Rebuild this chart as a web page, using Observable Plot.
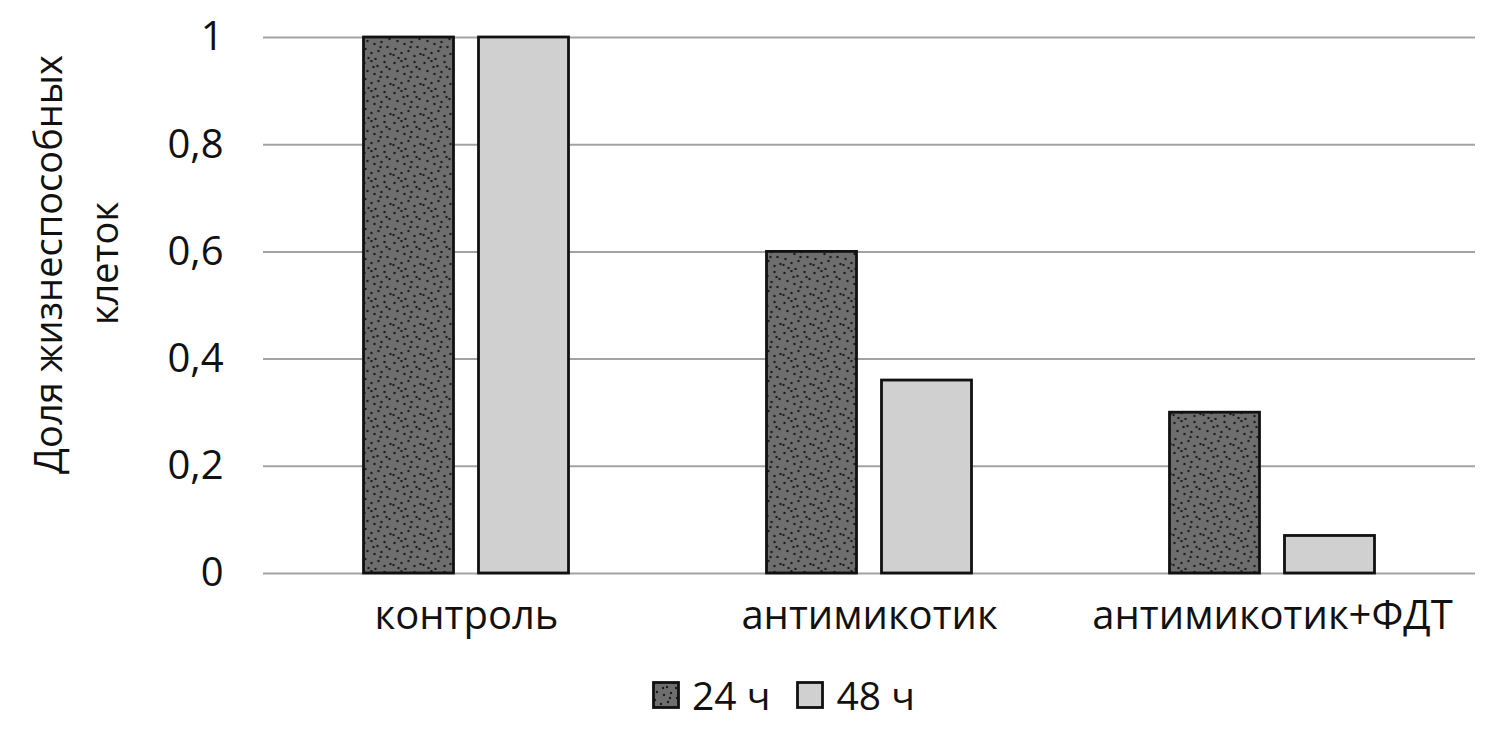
<!DOCTYPE html>
<html><head><meta charset="utf-8">
<script src="https://cdn.jsdelivr.net/npm/d3@7"></script>
<script src="https://cdn.jsdelivr.net/npm/@observablehq/plot@0.6"></script>
<style>
body{margin:0;background:#fff;font-family:"Open Sans",sans-serif;}
#wrap{position:relative;width:1500px;height:731px;overflow:hidden;}
#legend{position:absolute;top:668px;left:652px;height:54px;display:flex;align-items:center;font-size:39px;color:#111;line-height:54px;}
#legend .item{display:flex;align-items:center;margin-right:26px;}
#legend svg{margin-right:12px;}
</style></head><body><div id="wrap"></div>
<script>
const categories = ["контроль", "антимикотик", "антимикотик+ФДТ"];
const series = ["24 ч", "48 ч"];
const values24 = [1, 0.6, 0.3];
const values48 = [1, 0.36, 0.07];
const yTicks = [0, 0.2, 0.4, 0.6, 0.8, 1];
const yTitle = ["Доля жизнеспособных", "клеток"];

const rows24 = categories.map((c, i) => ({category: c, series: series[0], value: values24[i]}));
const rows48 = categories.map((c, i) => ({category: c, series: series[1], value: values48[i]}));

const font = '"Open Sans", sans-serif';
const plot = Plot.plot({
  width: 1500,
  height: 650,
  marginLeft: 263,
  marginRight: 25,
  marginTop: 37,
  marginBottom: 77,
  style: {fontFamily: font, background: "#fff", color: "#111"},
  x: {domain: categories, paddingInner: 0.777, paddingOuter: 0.389, label: null},
  y: {domain: [0, 1], label: null},
  marks: [
    Plot.ruleY(yTicks, {stroke: "#a3a3a3", strokeWidth: 2}),
    Plot.axisY({ticks: yTicks, tickSize: 0, tickPadding: 40, fontSize: 40, tickFormat: d => String(d).replace(".", ","), label: null}),
    Plot.axisX({tickSize: 0, tickPadding: 27, fontSize: 40, label: null}),
    Plot.barY(rows24, {x: "category", y: "value", fill: "url(#dots24)", stroke: "#111", strokeWidth: 2.8, dx: -57.5}),
    Plot.barY(rows48, {x: "category", y: "value", fill: "#d0d0d0", stroke: "#111", strokeWidth: 2.8, dx: 57.5}),
    Plot.text([yTitle[0]], {text: d => d, frameAnchor: "left", textAnchor: "middle", lineAnchor: "middle", rotate: -90, dx: -214, dy: -41, fontSize: 38, fill: "#111"}),
    Plot.text([yTitle[1]], {text: d => d, frameAnchor: "left", textAnchor: "middle", lineAnchor: "middle", rotate: -90, dx: -158, dy: -42, fontSize: 38, fill: "#111"})
  ]
});

// dotted texture (styling only)
const dotPts = [[2,3],[9,1],[15,6],[22,2],[27,9],[5,11],[12,14],[19,12],[25,17],[3,19],[9,23],[16,21],[22,26],[28,24],[6,28],[13,29],[18,17],[1,25],[24,7],[11,7]];
const defs = d3.select(plot).insert("defs", ":first-child");
const pat = defs.append("pattern").attr("id", "dots24").attr("patternUnits", "userSpaceOnUse").attr("width", 30).attr("height", 30);
pat.append("rect").attr("width", 30).attr("height", 30).attr("fill", "#6e6e6e");
dotPts.forEach(([x, y]) => pat.append("circle").attr("cx", x).attr("cy", y).attr("r", 1.2).attr("fill", "#1a1a1a"));

const wrap = document.getElementById("wrap");
wrap.appendChild(plot);

const legend = document.createElement("div");
legend.id = "legend";
const fills = ["url(#dots24)", "#d0d0d0"];
series.forEach((s, i) => {
  const item = document.createElement("div");
  item.className = "item";
  item.innerHTML = `<svg width="28" height="28"><rect x="1.5" y="1.5" width="25" height="25" fill="${fills[i]}" stroke="#111" stroke-width="2.8"/></svg><span>${s}</span>`;
  legend.appendChild(item);
});
wrap.appendChild(legend);
</script></body></html>
